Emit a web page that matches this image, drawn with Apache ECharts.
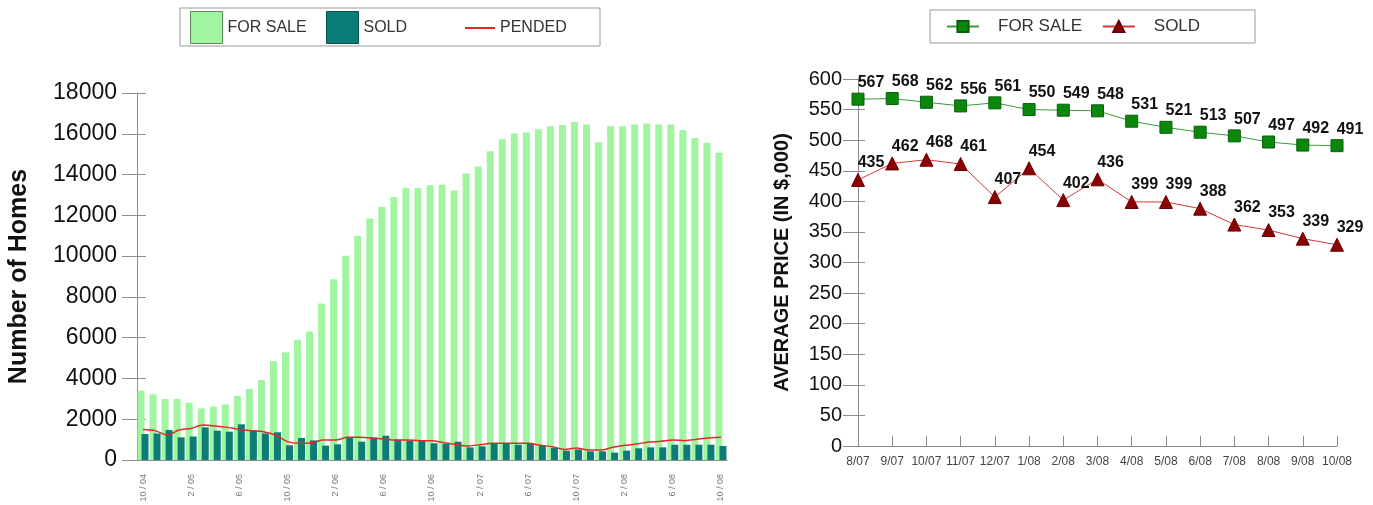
<!DOCTYPE html>
<html>
<head>
<meta charset="utf-8">
<title>Homes for sale / sold</title>
<script src="https://cdn.jsdelivr.net/npm/echarts@6/dist/echarts.min.js"></script>
<style>
    html, body {margin: 0; padding: 0; background: #fff;}
    #chart {width: 1373px; height: 505px;}
</style>
</head>
<body>
<div id="chart"></div>
<script>
// left chart: monthly inventory 10/04 - 10/08
var months = ['10 / 04', '11 / 04', '12 / 04', '1 / 05', '2 / 05', '3 / 05', '4 / 05', '5 / 05', '6 / 05', '7 / 05',
    '8 / 05', '9 / 05', '10 / 05', '11 / 05', '12 / 05', '1 / 06', '2 / 06', '3 / 06', '4 / 06', '5 / 06',
    '6 / 06', '7 / 06', '8 / 06', '9 / 06', '10 / 06', '11 / 06', '12 / 06', '1 / 07', '2 / 07', '3 / 07',
    '4 / 07', '5 / 07', '6 / 07', '7 / 07', '8 / 07', '9 / 07', '10 / 07', '11 / 07', '12 / 07', '1 / 08',
    '2 / 08', '3 / 08', '4 / 08', '5 / 08', '6 / 08', '7 / 08', '8 / 08', '9 / 08', '10 / 08'];
var forSale = [3400, 3220, 2990, 2990, 2810, 2530, 2620, 2730, 3140, 3480,
    3920, 4850, 5280, 5890, 6300, 7680, 8860, 10020, 10990, 11840,
    12410, 12900, 13340, 13340, 13470, 13500, 13220, 14050, 14400, 15140,
    15730, 16010, 16060, 16220, 16370, 16430, 16580, 16460, 15580, 16370,
    16370, 16450, 16510, 16450, 16450, 16190, 15790, 15560, 15070];
var sold = [1275, 1300, 1470, 1110, 1150, 1600, 1440, 1390, 1750, 1470,
    1300, 1360, 720, 1080, 960, 705, 770, 1100, 900, 1100,
    1190, 997, 950, 930, 820, 785, 900, 620, 670, 820,
    800, 750, 820, 690, 590, 460, 520, 425, 425, 360,
    460, 575, 620, 620, 750, 750, 750, 750, 690];
var pended = [1500, 1440, 1225, 1470, 1550, 1716, 1670, 1600, 1500, 1440,
    1390, 1225, 900, 820, 850, 980, 980, 1110, 1110, 1080,
    1030, 980, 980, 950, 950, 850, 750, 690, 750, 820,
    820, 820, 820, 720, 655, 520, 590, 490, 490, 620,
    720, 785, 880, 915, 980, 950, 1015, 1080, 1110];

// right chart: average price (in $,000)
var priceMonths = ['8/07', '9/07', '10/07', '11/07', '12/07', '1/08', '2/08', '3/08', '4/08', '5/08',
    '6/08', '7/08', '8/08', '9/08', '10/08'];
var priceForSale = [567, 568, 562, 556, 561, 550, 549, 548, 531, 521, 513, 507, 497, 492, 491];
var priceSold = [435, 462, 468, 461, 407, 454, 402, 436, 399, 399, 388, 362, 353, 339, 329];

var FONT = 'Arial, "Liberation Sans", sans-serif';
var axisGray = '#8c8c8c';

var chart = echarts.init(document.getElementById('chart'));

var legendText = {fontFamily: FONT, fontSize: 16, color: '#333'};
var plain = function (v) { return String(v); };

var option = {
    animation: false,
    textStyle: {fontFamily: FONT},
    graphic: [
        {type: 'rect', shape: {x: 180, y: 8, width: 420, height: 38}, style: {fill: 'none', stroke: '#999', lineWidth: 1}},
        {type: 'rect', shape: {x: 930, y: 10, width: 325, height: 33}, style: {fill: 'none', stroke: '#999', lineWidth: 1}}
    ],
    legend: [
        {data: [{name: 'FOR SALE', icon: 'rect', itemStyle: {borderColor: '#5a8a5a', borderWidth: 1}}], left: 190, top: 11, padding: 0,
            itemWidth: 32, itemHeight: 32, textStyle: legendText},
        {data: [{name: 'SOLD', icon: 'rect', itemStyle: {borderColor: '#0a4f4a', borderWidth: 1}}], left: 326, top: 11, padding: 0,
            itemWidth: 32, itemHeight: 32, textStyle: legendText},
        {data: [{name: 'PENDED', icon: 'rect'}], left: 465, top: 20, padding: 0,
            itemWidth: 30, itemHeight: 2, textStyle: legendText},
        {data: ['FOR SALE ', 'SOLD '], left: 946, top: 18, padding: 0, itemGap: 15,
            itemWidth: 32, itemHeight: 14,
            textStyle: {fontFamily: FONT, fontSize: 17, color: '#333', padding: [0, 0, 0, 14]}}
    ],
    grid: [
        {left: 137, right: 646, top: 93, bottom: 45},
        {left: 858, right: 36, top: 79, bottom: 59}
    ],
    xAxis: [
        {
            type: 'category', gridIndex: 0, data: months,
            axisLine: {lineStyle: {color: axisGray}},
            axisTick: {alignWithLabel: false, interval: 0, length: 13, lineStyle: {color: axisGray}},
            axisLabel: {interval: 3, rotate: 90, fontSize: 9, color: '#777', margin: 14}
        },
        {
            type: 'category', gridIndex: 0, data: months, position: 'bottom',
            axisLine: {show: false},
            axisTick: {inside: true, interval: 0, length: 12, lineStyle: {color: axisGray}},
            axisLabel: {show: false}
        },
        {
            type: 'category', gridIndex: 1, data: priceMonths, boundaryGap: false,
            axisLine: {lineStyle: {color: axisGray}},
            axisTick: {inside: true, length: 10, lineStyle: {color: axisGray}},
            axisLabel: {interval: 0, fontSize: 12, color: '#444', margin: 10}
        }
    ],
    yAxis: [
        {
            type: 'value', gridIndex: 0, min: 0, max: 18000, interval: 2000,
            name: 'Number of Homes', nameLocation: 'middle', nameGap: 105,
            nameTextStyle: {fontSize: 25, fontWeight: 'bold', color: '#111', fontFamily: FONT},
            axisLine: {show: true, lineStyle: {color: axisGray}},
            axisTick: {show: true, length: 15, lineStyle: {color: axisGray}},
            axisLabel: {fontSize: 23, color: '#111', margin: 20, formatter: plain},
            splitLine: {show: false}
        },
        {
            type: 'value', gridIndex: 0, min: 0, max: 18000, interval: 2000, position: 'left',
            axisLine: {show: false},
            axisTick: {show: true, inside: true, length: 9, lineStyle: {color: axisGray}},
            axisLabel: {show: false},
            splitLine: {show: false}
        },
        {
            type: 'value', gridIndex: 1, min: 0, max: 600, interval: 50,
            name: 'AVERAGE PRICE (IN $,000)', nameLocation: 'middle', nameGap: 66,
            nameTextStyle: {fontSize: 20, fontWeight: 'bold', color: '#111', fontFamily: FONT},
            axisLine: {show: true, lineStyle: {color: axisGray}},
            axisTick: {show: true, length: 15, lineStyle: {color: axisGray}},
            axisLabel: {fontSize: 20, color: '#111', margin: 16, formatter: plain},
            splitLine: {show: false}
        },
        {
            type: 'value', gridIndex: 1, min: 0, max: 600, interval: 50, position: 'left',
            axisLine: {show: false},
            axisTick: {show: true, inside: true, length: 7, lineStyle: {color: axisGray}},
            axisLabel: {show: false},
            splitLine: {show: false}
        }
    ],
    series: [
        {
            name: 'FOR SALE', type: 'bar', xAxisIndex: 0, yAxisIndex: 0, data: forSale,
            barWidth: 7, barGap: '-43%',
            itemStyle: {color: '#a2f5a0'}
        },
        {
            name: 'SOLD', type: 'bar', xAxisIndex: 0, yAxisIndex: 0, data: sold,
            barWidth: 7, barGap: '-43%',
            itemStyle: {color: '#0b7c76'}
        },
        {
            name: 'PENDED', type: 'line', xAxisIndex: 0, yAxisIndex: 0, data: pended,
            smooth: 0.3, symbol: 'none',
            lineStyle: {color: '#e02a2a', width: 1.5},
            itemStyle: {color: '#e02a2a'},
            z: 5
        },
        {
            name: 'FOR SALE ', type: 'line', xAxisIndex: 2, yAxisIndex: 2, data: priceForSale,
            symbol: 'rect', symbolSize: 12,
            lineStyle: {color: '#3a9a3a', width: 1},
            itemStyle: {color: '#0b870b', borderColor: '#05600a', borderWidth: 1},
            label: {show: true, position: 'top', distance: 2, offset: [13, 0],
                fontSize: 16, fontWeight: 'bold', color: '#111'}
        },
        {
            name: 'SOLD ', type: 'line', xAxisIndex: 2, yAxisIndex: 2, data: priceSold,
            symbol: 'triangle', symbolSize: 13,
            lineStyle: {color: '#d03a3a', width: 1},
            itemStyle: {color: '#8b0000', borderColor: '#6a0000', borderWidth: 1},
            label: {show: true, position: 'top', distance: 2, offset: [13, 0],
                fontSize: 16, fontWeight: 'bold', color: '#111'}
        }
    ]
};

chart.setOption(option);
</script>
</body>
</html>
